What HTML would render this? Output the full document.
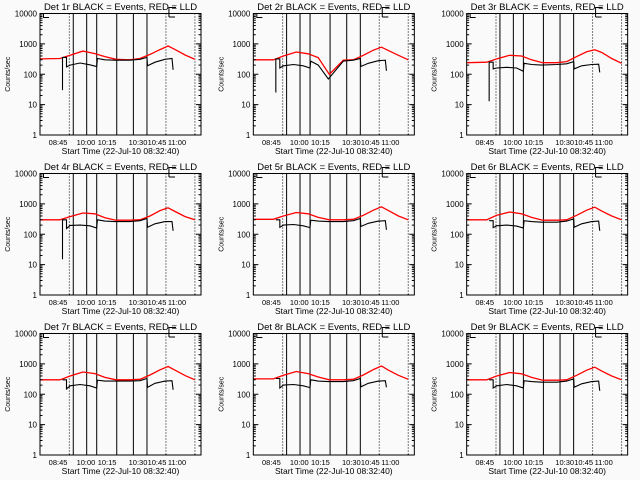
<!DOCTYPE html>
<html><head><meta charset="utf-8"><style>
html,body{margin:0;padding:0;background:#fafafa;}
svg{display:block;}
text{font-family:"Liberation Sans",sans-serif;font-size:9px;fill:#000;}
</style></head><body>
<svg id="chart" width="640" height="480" xmlns="http://www.w3.org/2000/svg"></svg>
<script>
const panelNames = ["1r","2r","3r","4r","5r","6r","7r","8r","9r"];
const redTimes = [0,11.2,16.8,24.0,30.7,36.3,42.5,50.3,55.9,61.5,67.1,71.6,75.5,81.1,86.6];
const blackTimes = [12.6,12.6,14.8,14.8,16.8,22.4,27.9,31.7,32.1,36.3,41.9,50.3,55.9,59.8,60.1,64.3,69.9,73.8,74.4];
const redSeries = [
 [320,330,420,580,480,380,310,300,330,450,650,850,650,430,310],
 [300,300,400,540,470,350,100,290,300,420,620,780,600,420,300],
 [240,250,320,420,400,300,240,240,260,380,550,640,520,330,230],
 [300,300,380,500,470,350,290,290,300,400,600,740,560,380,300],
 [310,310,400,520,470,360,300,300,310,420,620,800,600,400,300],
 [300,300,420,540,470,360,290,290,300,420,620,780,580,400,300],
 [300,300,400,540,480,360,300,300,310,430,640,820,620,410,300],
 [320,320,420,560,480,370,300,300,310,430,650,850,620,420,310],
 [300,300,400,520,470,360,290,290,300,420,620,780,580,400,300]
];
const blackSeries = [
 [30,360,360,175,200,235,205,180,330,300,290,290,310,360,190,250,310,330,140],
 [25,320,320,160,190,210,190,160,270,200,70,270,290,330,180,230,280,290,130],
 [13,250,250,150,160,170,160,125,230,210,200,210,220,260,150,190,210,215,115],
 [15,300,300,155,195,200,190,160,300,270,260,260,280,330,170,220,260,260,130],
 [300,300,300,170,200,210,190,165,290,270,260,260,280,330,180,230,270,280,140],
 [280,280,280,165,190,200,185,160,280,260,250,250,270,320,170,220,260,270,130],
 [300,300,300,150,190,210,190,160,290,270,270,270,280,330,170,230,270,280,140],
 [330,330,330,160,200,210,190,165,300,270,260,260,280,330,175,230,270,280,170],
 [300,300,300,160,190,210,190,160,280,260,250,250,270,320,170,220,260,270,130]
];
const solidLineTimes = [18.6,26.1,31.7,42.9,52.2,59.8];
const dottedLineTimes = [16.4,70.4,86.6];
const xTickTimes = [10.1,25.7,37.5,54.8,65.4,76.6];
const xTickLabels = ["08:45","10:00","10:15","10:30","10:45","11:00"];
const yTickValues = [1,10,100,1000,10000];
const yTickLabels = ["1","10","100","1000","10000"];

const NS="http://www.w3.org/2000/svg";
const svg=document.getElementById('chart');
function mk(tag,attrs,parent){const e=document.createElementNS(NS,tag);for(const k in attrs)e.setAttribute(k,attrs[k]);parent.appendChild(e);return e;}
const PL=40,PR=201,PT=13.5,PB=135;
function xs(t){return PL+t/90*(PR-PL);}
function ys(v){return PB-(Math.log10(v))/4*(PB-PT);}

panelNames.forEach((nm,i)=>{
  const ox=(i%3)*213.33, oy=Math.floor(i/3)*160;
  const g=mk('g',{transform:`translate(${ox.toFixed(2)},${oy})`},svg);
  
  
  solidLineTimes.forEach(t=>{const l=mk('line',{x1:xs(t),x2:xs(t),y1:PT,y2:PB,stroke:'#000','stroke-width':1},g);
    });
  dottedLineTimes.forEach(t=>{const l=mk('line',{x1:xs(t),x2:xs(t),y1:PT,y2:PB,stroke:'#000','stroke-width':1,'stroke-dasharray':'1,2'},g);
    });
  const m1=mk('path',{d:`M43.5 ${PT} V17.5 H49 M${xs(70.4)+3} 17 V7.5 H176 M${xs(70.4)+3} 17 H175`,fill:'none',stroke:'#000'},g);
  
  const rv=redSeries[i];
  let d='';rv.forEach((v,k)=>{d+=(k?'L':'M')+xs(redTimes[k]).toFixed(1)+' '+ys(v).toFixed(1);});
  const r=mk('path',{d:d,fill:'none',stroke:'#f00','stroke-width':1.3},g);
  
  const bv=blackSeries[i];
  d='';bv.forEach((v,k)=>{d+=(k?'L':'M')+xs(blackTimes[k]).toFixed(1)+' '+ys(v).toFixed(1);});
  const b=mk('path',{d:d,fill:'none',stroke:'#000','stroke-width':1.1},g);
  
  const box=mk('rect',{x:PL,y:PT,width:PR-PL,height:PB-PT,fill:'none',stroke:'#000','stroke-width':1},g);
  
  yTickValues.forEach((v,k)=>{const y=ys(v);
    mk('line',{x1:PL,x2:PL+5,y1:y,y2:y,stroke:'#000'},g);mk('line',{x1:PR,x2:PR-5,y1:y,y2:y,stroke:'#000'},g);
    const t=mk('text',{x:PL-3,y:y+3,'text-anchor':'end',style:'font-size:8px'},g);t.textContent=yTickLabels[k];
    
    if(k<yTickValues.length-1){for(let m=2;m<10;m++){const yy=ys(v*m);
      mk('line',{x1:PL,x2:PL+2.5,y1:yy,y2:yy,stroke:'#000'},g);mk('line',{x1:PR,x2:PR-2.5,y1:yy,y2:yy,stroke:'#000'},g);}}
  });
  xTickTimes.forEach((tt,k)=>{const x=xs(tt);
    const t=mk('text',{x:x,y:PB+10,'text-anchor':'middle',style:'font-size:7.5px'},g);t.textContent=xTickLabels[k];
    });
  const yt=mk('text',{x:0,y:0,'text-anchor':'middle',transform:`translate(10,${(PT+PB)/2}) rotate(-90)`,style:'font-size:7px'},g);
  yt.textContent='Counts/sec';
  const xt=mk('text',{x:120.5,y:154,'text-anchor':'middle',style:'font-size:8.5px'},g);
  xt.textContent='Start Time (22-Jul-10 08:32:40)';
  const ti=mk('text',{x:120.5,y:10,'text-anchor':'middle',style:'font-size:9.5px'},g);
  ti.textContent='Det '+nm+' BLACK = Events, RED = LLD';
});
</script>
</body></html>
